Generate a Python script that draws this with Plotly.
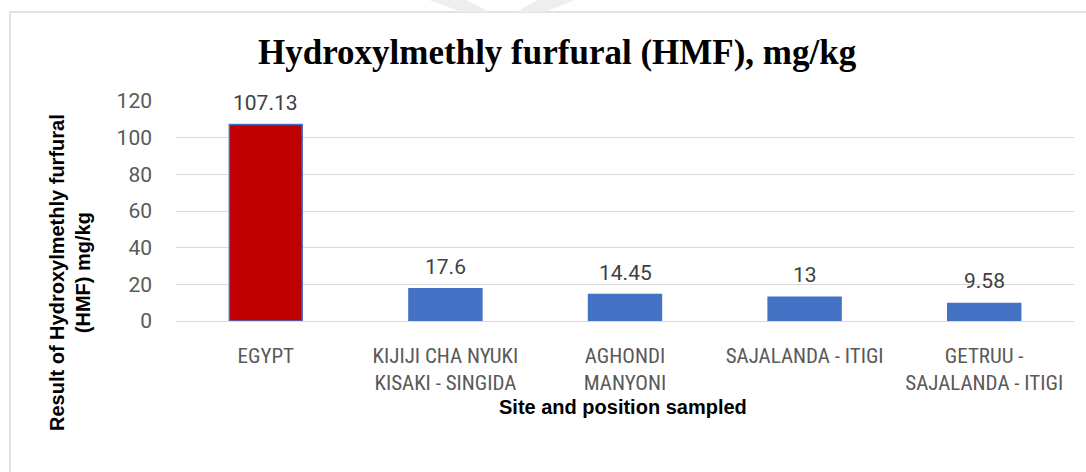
import plotly.graph_objects as go

categories = ["EGYPT", "KIJIJI CHA NYUKI<br>KISAKI - SINGIDA", "AGHONDI<br>MANYONI",
              "SAJALANDA - ITIGI", "GETRUU -<br>SAJALANDA - ITIGI"]
values = [107.13, 17.6, 14.45, 13, 9.58]
labels = ["107.13", "17.6", "14.45", "13", "9.58"]
colors = ["#C00000", "#4472C4", "#4472C4", "#4472C4", "#4472C4"]

W, H = 1086, 472
L, R, T, B = 176, 12, 101, 151
pw, ph = W - L - R, H - T - B


def px(x):
    return (x - L) / pw


def py(y):
    return (H - B - y) / ph


fig = go.Figure()
fig.add_trace(go.Bar(
    x=categories, y=values,
    marker=dict(color=colors, line=dict(color="#4472C4", width=1.5)),
))

annos = []
for c, v, t in zip(categories, values, labels):
    annos.append(dict(x=c, y=v, text=t, xref="x", yref="y", showarrow=False,
                      yanchor="bottom", yshift=8,
                      font=dict(family="Roboto", size=21, color="#404040")))

annos += [
    dict(text="<b>Hydroxylmethly furfural (HMF), mg/kg</b>", x=px(557), y=py(52),
         xref="paper", yref="paper", showarrow=False, xanchor="center", yanchor="middle",
         font=dict(family="Liberation Serif", size=35, color="black")),
    dict(text="<b>Site and position sampled</b>", x=px(623), y=py(407),
         xref="paper", yref="paper", showarrow=False, xanchor="center", yanchor="middle",
         font=dict(family="Liberation Sans", size=20, color="black")),
    dict(text="<b>Result of Hydroxylmethly furfural<br>(HMF) mg/kg</b>", x=px(70), y=py(273),
         xref="paper", yref="paper", showarrow=False, textangle=-90,
         xanchor="center", yanchor="middle",
         font=dict(family="Liberation Sans", size=20, color="black")),
]

fig.update_layout(
    width=W, height=H, margin=dict(l=L, r=R, t=T, b=B, autoexpand=False),
    paper_bgcolor="white", plot_bgcolor="white", showlegend=False,
    bargap=0.594,
    font=dict(family="Roboto"),
    xaxis=dict(showgrid=False, showline=False, ticks="",
               tickfont=dict(family="Liberation Sans Narrow, Roboto Condensed, Roboto", size=21, color="#595959"),
               ticklabelstandoff=20),
    yaxis=dict(range=[0, 120], dtick=20, showgrid=True, gridcolor="#d9d9d9", gridwidth=1.3,
               zeroline=True, zerolinecolor="#d9d9d9", zerolinewidth=1.3, showline=False, ticks="",
               tickfont=dict(family="Roboto", size=21, color="#595959"), ticklabelstandoff=23),
    annotations=annos,
    shapes=[
        dict(type="rect", xref="paper", yref="paper", x0=px(10), x1=px(1100), y0=py(490), y1=py(12),
             line=dict(color="#d9d9d9", width=1.5), layer="below"),
        dict(type="path", xref="paper", yref="paper",
             path=f"M {px(429)},{py(0)} L {px(466)},{py(0)} L {px(490)},{py(12)} L {px(462)},{py(12)} Z",
             fillcolor="#eeeeee", line=dict(width=0), layer="below"),
        dict(type="path", xref="paper", yref="paper",
             path=f"M {px(575)},{py(0)} L {px(538)},{py(0)} L {px(516)},{py(12)} L {px(545)},{py(12)} Z",
             fillcolor="#eeeeee", line=dict(width=0), layer="below"),
    ],
)

fig.write_html("out.html", config={"displayModeBar": False},
               post_script="document.body.style.margin='0';document.body.style.overflow='hidden';")
